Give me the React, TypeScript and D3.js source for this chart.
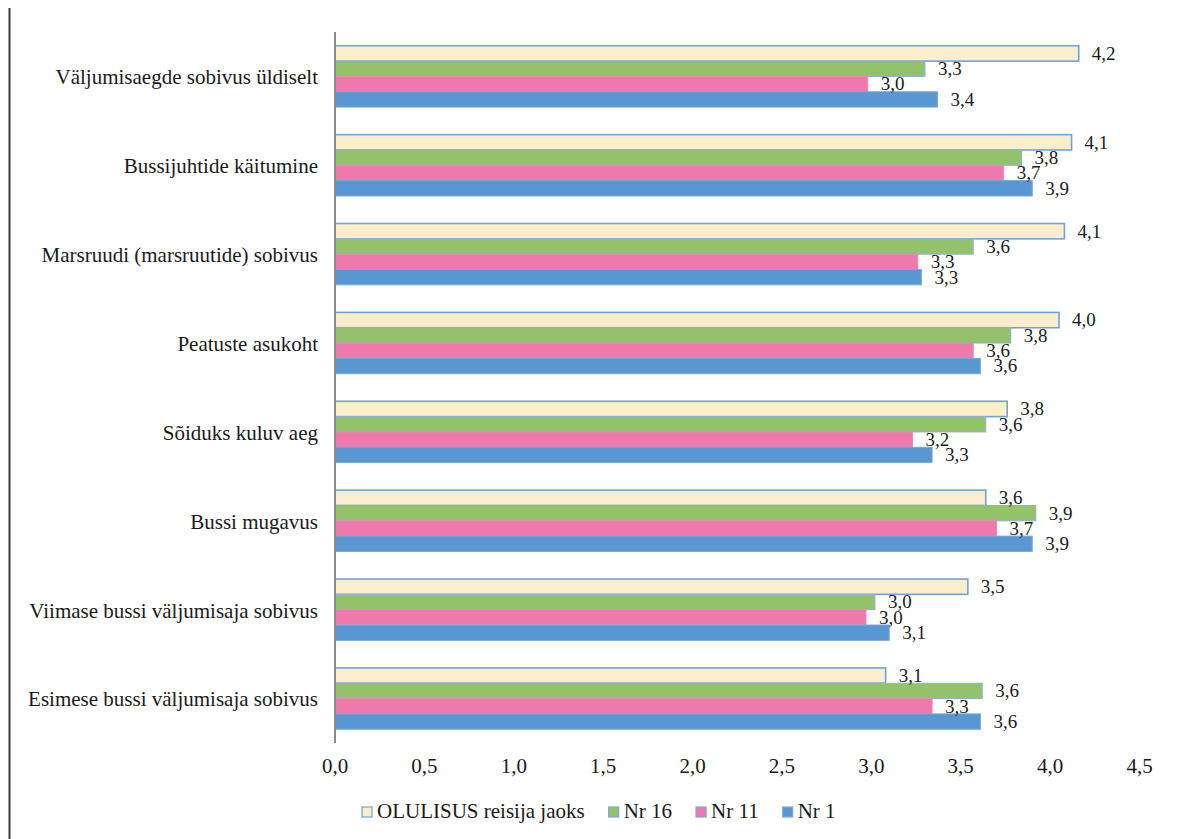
import React from "react";
import * as d3 from "d3";

const categories = [
  "Väljumisaegde sobivus üldiselt",
  "Bussijuhtide käitumine",
  "Marsruudi (marsruutide) sobivus",
  "Peatuste asukoht",
  "Sõiduks kuluv aeg",
  "Bussi mugavus",
  "Viimase bussi väljumisaja sobivus",
  "Esimese bussi väljumisaja sobivus",
];

const seriesNames = ["OLULISUS reisija jaoks", "Nr 16", "Nr 11", "Nr 1"];

const olulisus = [4.16, 4.12, 4.08, 4.05, 3.76, 3.64, 3.54, 3.08];
const nr16 = [3.3, 3.84, 3.57, 3.78, 3.64, 3.92, 3.02, 3.62];
const nr11 = [2.98, 3.74, 3.26, 3.57, 3.23, 3.7, 2.97, 3.34];
const nr1 = [3.37, 3.9, 3.28, 3.61, 3.34, 3.9, 3.1, 3.61];

const xTicks = [0, 0.5, 1, 1.5, 2, 2.5, 3, 3.5, 4, 4.5];

const seriesValues = [olulisus, nr16, nr11, nr1];
const seriesFill = ["#FDEECB", "#94C26A", "#EF78AC", "#5897D2"];
const seriesStroke = ["#6FA3D8", "#8DB1D8", "#E98DB8", "#79A8DA"];

const W = 1177;
const H = 839;
const FONT = "'Liberation Serif', 'Times New Roman', serif";

const locale = d3.formatLocale({
  decimal: ",",
  thousands: " ",
  grouping: [3],
  currency: ["", ""],
});
const fmt1 = locale.format(".1f");

function measure(text: string, size: number): number {
  if (typeof document === "undefined") return text.length * size * 0.45;
  const c = document.createElement("canvas");
  const ctx = c.getContext("2d");
  if (!ctx) return text.length * size * 0.45;
  ctx.font = `${size}px 'Liberation Serif'`;
  return ctx.measureText(text).width;
}

export default function App() {
  const x = d3.scaleLinear().domain([0, 4.5]).range([335, 1139.5]);
  const y = d3
    .scaleBand<string>()
    .domain(categories)
    .range([32, 743])
    .paddingInner(0.31)
    .paddingOuter(0.155);
  const inner = d3
    .scaleBand<string>()
    .domain(seriesNames)
    .range([0, y.bandwidth()]);

  // legend layout
  const legendItems: { name: string; x: number; i: number }[] = [];
  let lx = 362;
  seriesNames.forEach((name, i) => {
    legendItems.push({ name, x: lx, i });
    lx += 11 + 4 + measure(name, 21) + 24;
  });

  return (
    <svg
      width={W}
      height={H}
      style={{ position: "absolute", left: 0, top: 0, background: "#fff" }}
      fontFamily={FONT}
    >
      <rect x={0} y={0} width={W} height={H} fill="#fff" />
      <line x1={9.5} x2={9.5} y1={8} y2={H} stroke="#3a3a3a" strokeWidth={2} />

      {categories.map((cat, ci) => {
        const y0 = y(cat)!;
        return (
          <g key={cat}>
            {seriesNames.map((s, si) => {
              const v = seriesValues[si][ci];
              const by = y0 + inner(s)!;
              return (
                <rect
                  key={s}
                  x={x(0)}
                  y={by}
                  width={x(v) - x(0)}
                  height={inner.bandwidth()}
                  fill={seriesFill[si]}
                  stroke={seriesStroke[si]}
                  strokeWidth={si === 0 ? 1.6 : 1}
                />
              );
            })}
          </g>
        );
      })}

      {categories.map((cat, ci) => {
        const y0 = y(cat)!;
        return (
          <g key={cat + "-labels"}>
            {seriesNames.map((s, si) => {
              const v = seriesValues[si][ci];
              const cy = y0 + inner(s)! + inner.bandwidth() / 2;
              return (
                <text
                  key={s}
                  x={x(v) + 13}
                  y={cy + 2}
                  dominantBaseline="middle"
                  fontSize={19}
                  fill="#1a1a1a"
                >
                  {fmt1(v)}
                </text>
              );
            })}
            <text
              x={318}
              y={y0 + y.bandwidth() / 2 + 3}
              textAnchor="end"
              dominantBaseline="middle"
              fontSize={21}
              fill="#1a1a1a"
            >
              {cat}
            </text>
          </g>
        );
      })}

      <line x1={335} x2={335} y1={32} y2={743} stroke="#8a8a8a" strokeWidth={2} />

      {xTicks.map((t) => (
        <text
          key={t}
          x={x(t)}
          y={768}
          textAnchor="middle"
          dominantBaseline="middle"
          fontSize={21}
          fill="#1a1a1a"
        >
          {fmt1(t)}
        </text>
      ))}

      {legendItems.map((it) => (
        <g key={it.name}>
          <rect
            x={it.x}
            y={807}
            width={10}
            height={10}
            fill={seriesFill[it.i]}
            stroke={it.i === 0 ? "#6FA3D8" : "#7FA7D6"}
            strokeWidth={1.2}
          />
          <text
            x={it.x + 15}
            y={813}
            dominantBaseline="middle"
            fontSize={21}
            fill="#1a1a1a"
          >
            {it.name}
          </text>
        </g>
      ))}
    </svg>
  );
}
